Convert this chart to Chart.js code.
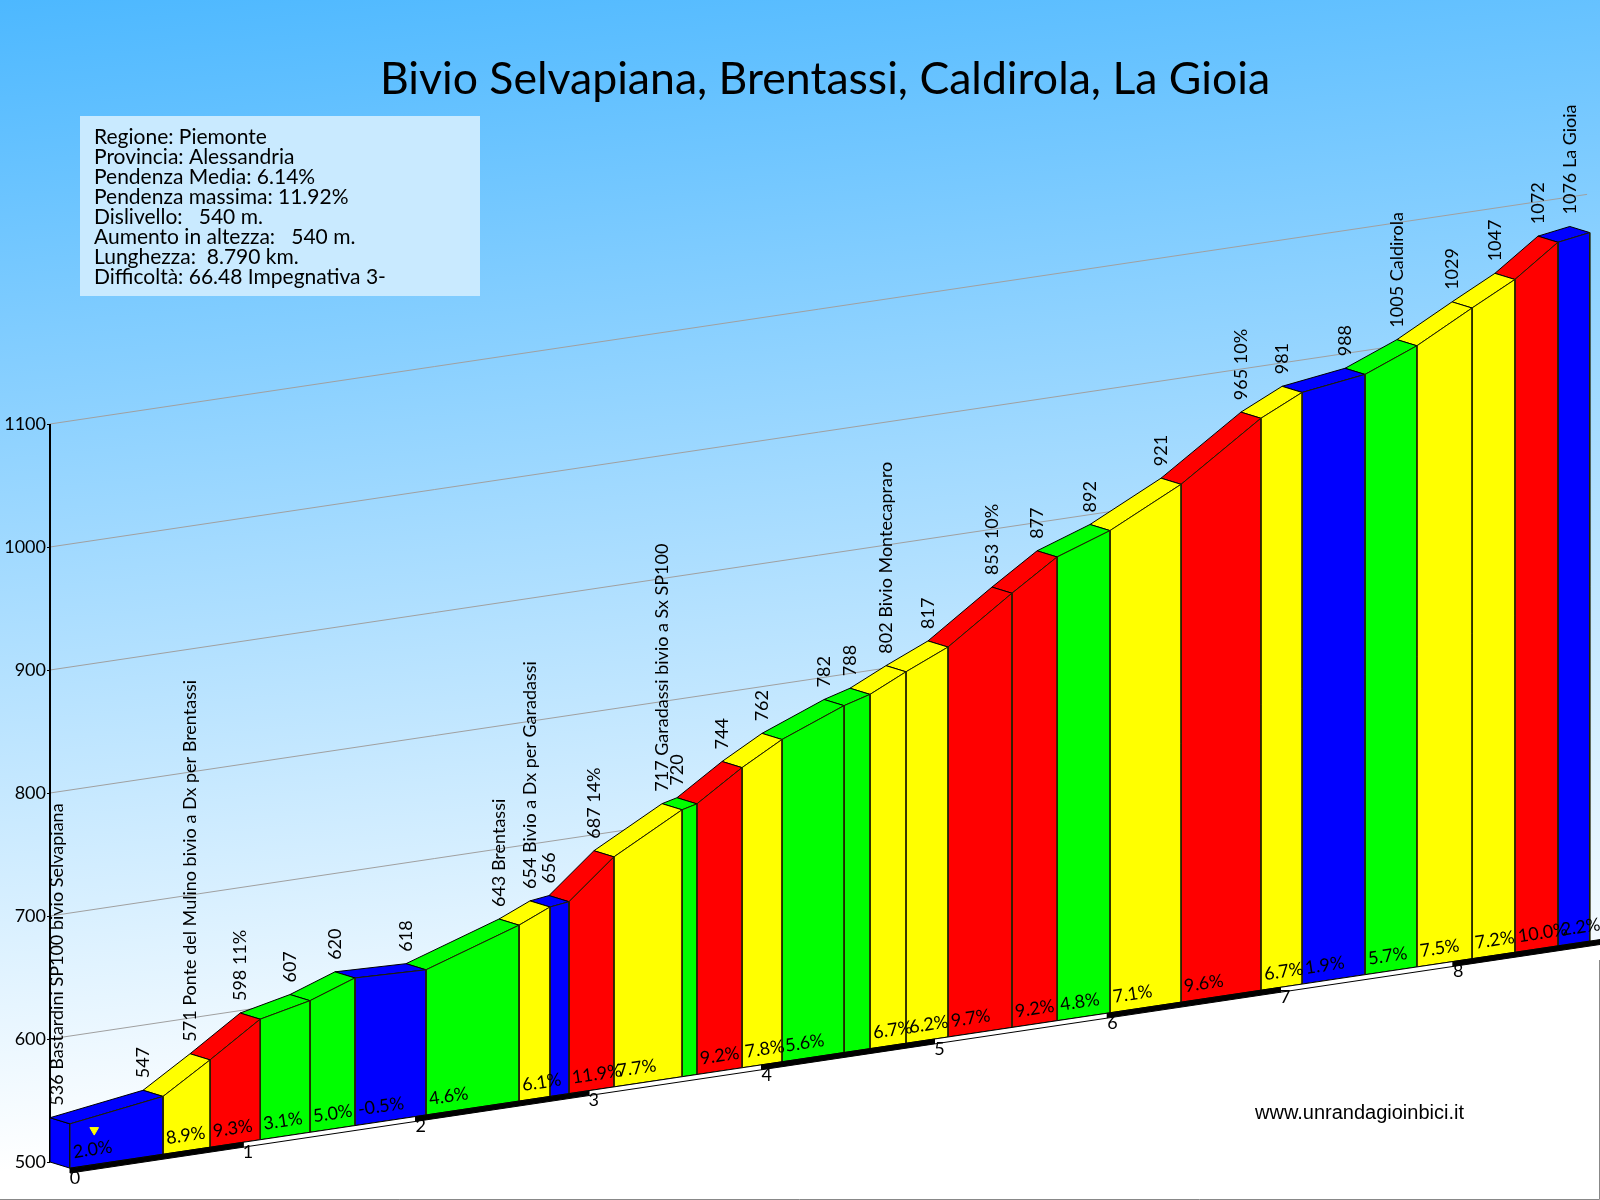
<!DOCTYPE html>
<html lang="it">
<head>
<meta charset="utf-8">
<title>Bivio Selvapiana, Brentassi, Caldirola, La Gioia</title>
<script src="https://cdn.jsdelivr.net/npm/chart.js@4/dist/chart.umd.min.js"></script>
<style>
    html, body { margin: 0; padding: 0; background: #fff; }
    canvas { display: block; }
</style>
</head>
<body>
<canvas id="grafico" width="1600" height="1200"></canvas>
<script>
const titolo = 'Bivio Selvapiana, Brentassi, Caldirola, La Gioia';
const sito = 'www.unrandagioinbici.it';
const info = [
    'Regione: Piemonte',
    'Provincia: Alessandria',
    'Pendenza Media: 6.14%',
    'Pendenza massima: 11.92%',
    'Dislivello:   540 m.',
    'Aumento in altezza:   540 m.',
    'Lunghezza:  8.790 km.',
    'Difficoltà: 66.48 Impegnativa 3-'
];
const km = [0, 0.538, 0.81, 1.10, 1.388, 1.648, 2.059, 2.597, 2.776, 2.886, 3.146, 3.54, 3.626,
    3.887, 4.118, 4.477, 4.627, 4.835, 5.078, 5.448, 5.709, 6.015, 6.426, 6.888, 7.126, 7.49,
    7.79, 8.109, 8.357, 8.606, 8.79];
const quote = [536, 547, 571, 598, 607, 620, 618, 643, 654, 656, 687, 717, 720, 744, 762, 782,
    788, 802, 817, 853, 877, 892, 921, 965, 981, 988, 1005, 1029, 1047, 1072, 1076];
const etichette = ['536 Bastardini SP100 bivio Selvapiana', '547', '571 Ponte del Mulino bivio a Dx per Brentassi',
    '598 11%', '607', '620', '618', '643 Brentassi', '654 Bivio a Dx per Garadassi', '656', '687 14%',
    '717 Garadassi bivio a Sx SP100', '720', '744', '762', '782', '788', '802 Bivio Montecapraro', '817',
    '853 10%', '877', '892', '921', '965 10%', '981', '988', '1005 Caldirola', '1029', '1047', '1072',
    '1076 La Gioia'];
// null = tratto senza scritta nel grafico
const pendenze = [2.0, 8.9, 9.3, 3.1, 5.0, -0.5, 4.6, 6.1, null, 11.9, 7.7, null, 9.2, 7.8, 5.6, null,
    6.7, 6.2, 9.7, 9.2, 4.8, 7.1, 9.6, 6.7, 1.9, 5.7, 7.5, 7.2, 10.0, 2.2];
const tickQuote = [500, 600, 700, 800, 900, 1000, 1100];
const tickKm = [0, 1, 2, 3, 4, 5, 6, 7, 8];
const bandierinaKm = [0.14];
const bandierinaQuota = [528];

// Proiezione: il piano frontale sale con la distanza, quello posteriore e' spostato indietro
const PX_M = 1.23, PX_KM = 172.9;
const SALITA = 21;      // m per km
const PROF_KM = 20 / PX_KM;
const PROF_M = 5;

const font = 'Lato, "Noto Sans", sans-serif';

const fronte = (k, q) => ({ x: k, y: q + SALITA * k - PROF_M });
const retro = (k, q) => ({ x: k - PROF_KM, y: q + SALITA * k });
const chiudi = punti => punti.concat([punti[0]]);

function poligono(punti, colore, bordo) {
    return {
        data: chiudi(punti),
        showLine: true,
        fill: 'shape',
        backgroundColor: colore,
        borderColor: bordo || colore,
        borderWidth: 1,
        pointRadius: 0,
        tension: 0,
        clip: false
    };
}

function linea(punti, colore, spessore) {
    return {
        data: punti,
        showLine: true,
        fill: false,
        borderColor: colore,
        borderWidth: spessore,
        pointRadius: 0,
        tension: 0,
        clip: false
    };
}

function colorePendenza(i) {
    const p = pendenze[i] !== null ? pendenze[i] : (quote[i + 1] - quote[i]) / (km[i + 1] - km[i]) / 10;
    if (p < 3) return '#0000ff';
    if (p < 6) return '#00ff00';
    if (p < 9) return '#ffff00';
    return '#ff0000';
}

// Il primo dataset dell'array viene disegnato sopra gli altri
const datasets = [];

datasets.push({
    data: [fronte(bandierinaKm[0], bandierinaQuota[0])],
    pointStyle: 'triangle',
    pointRadius: 5,
    pointRotation: 180,
    backgroundColor: '#ffff00',
    borderColor: '#ffff00',
    clip: false
});

// Fascia chilometrica nera e bianca
tickKm.forEach(k => {
    const fine = k === 8 ? 8.85 : k + 1;
    const punti = [fronte(k, 500), fronte(fine, 500), fronte(fine, 496), fronte(k, 496)];
    datasets.push(poligono(punti, k % 2 === 0 ? '#000000' : '#ffffff', '#000000'));
});

for (let i = 0; i < km.length - 1; i++) {
    const colore = colorePendenza(i);
    datasets.push(poligono([
        fronte(km[i], 500), fronte(km[i], quote[i]), fronte(km[i + 1], quote[i + 1]), fronte(km[i + 1], 500)
    ], colore, '#222200'));
    datasets.push(poligono([
        retro(km[i], quote[i]), retro(km[i + 1], quote[i + 1]), fronte(km[i + 1], quote[i + 1]), fronte(km[i], quote[i])
    ], colore, '#000000'));
}

// Fianco sinistro
datasets.push(poligono([
    retro(0, 500), retro(0, quote[0]), fronte(0, quote[0]), fronte(0, 500)
], colorePendenza(0), '#000000'));

// Asse delle quote
datasets.push(linea([retro(0, tickQuote[0]), retro(0, tickQuote[tickQuote.length - 1])], '#000000', 2));

// Terreno bianco sotto la base
datasets.push(poligono([
    fronte(-PROF_KM, 496), fronte(8.85, 496), { x: 8.85, y: 460 }, { x: -PROF_KM, y: 460 }
], '#ffffff'));

// Griglia inclinata
tickQuote.forEach(q => {
    datasets.push(linea([retro(0, q), retro(8.89, q)], '#a0a0a0', 1));
});

const sfondo = {
    id: 'sfondo',
    beforeDraw(chart) {
        const ctx = chart.ctx;
        const g = ctx.createLinearGradient(0, 0, 116, 1160);
        g.addColorStop(0, '#4db8ff');
        g.addColorStop(1, '#ffffff');
        ctx.save();
        ctx.fillStyle = g;
        ctx.fillRect(0, 0, chart.width, chart.height);
        ctx.restore();
    }
};

const testi = {
    id: 'testi',
    afterDatasetsDraw(chart) {
        const ctx = chart.ctx;
        const xs = chart.scales.x, ys = chart.scales.y;
        const inclinazione = -Math.atan(SALITA * PX_M / PX_KM);
        ctx.save();
        ctx.fillStyle = '#000';

        // Titolo
        ctx.font = '44.6px ' + font;
        ctx.textAlign = 'center';
        ctx.textBaseline = 'alphabetic';
        ctx.fillText(titolo, 825, 94);

        // Riquadro informazioni
        ctx.fillStyle = '#c9eaff';
        ctx.fillRect(80, 116, 400, 180);
        ctx.fillStyle = '#000';
        ctx.font = '21px ' + font;
        ctx.textAlign = 'left';
        info.forEach((riga, i) => ctx.fillText(riga, 94, 144 + i * 20));

        // Sito
        ctx.font = '20px "Liberation Sans", Arial, sans-serif';
        ctx.fillText(sito, 1255, 1119);

        // Etichette verticali sui punti
        ctx.font = '18px ' + font;
        ctx.textBaseline = 'middle';
        etichette.forEach((testo, i) => {
            const p = retro(km[i], quote[i]);
            ctx.save();
            ctx.translate(Math.max(xs.getPixelForValue(p.x), 57), ys.getPixelForValue(p.y) - 12);
            ctx.rotate(-Math.PI / 2);
            ctx.fillText(testo, 0, 0);
            ctx.restore();
        });

        // Pendenze lungo la base
        ctx.textBaseline = 'alphabetic';
        pendenze.forEach((p, i) => {
            if (p === null) return;
            const b = fronte(km[i], 500);
            ctx.save();
            ctx.translate(xs.getPixelForValue(b.x) + 4, ys.getPixelForValue(b.y) - 10);
            ctx.rotate(inclinazione);
            ctx.fillText(p.toFixed(1) + '%', 0, 0);
            ctx.restore();
        });

        // Chilometri
        ctx.textAlign = 'center';
        ctx.textBaseline = 'middle';
        tickKm.forEach(k => {
            const b = fronte(k, 500);
            ctx.fillText(String(k), xs.getPixelForValue(b.x) + 5, ys.getPixelForValue(b.y) + 10);
        });

        // Cornice dell'immagine
        ctx.strokeStyle = '#888';
        ctx.lineWidth = 1;
        ctx.beginPath();
        ctx.moveTo(1599.5, 960);
        ctx.lineTo(1599.5, 1199.5);
        ctx.lineTo(0, 1199.5);
        ctx.stroke();
        ctx.restore();
    }
};

new Chart(document.getElementById('grafico'), {
    type: 'scatter',
    data: { datasets: datasets },
    plugins: [sfondo, testi],
    options: {
        responsive: false,
        animation: false,
        devicePixelRatio: 1,
        layout: { autoPadding: false },
        plugins: {
            legend: { display: false },
            tooltip: { enabled: false }
        },
        scales: {
            x: {
                type: 'linear',
                display: false,
                min: -PROF_KM,
                max: (1600 - 70) / PX_KM
            },
            y: {
                type: 'linear',
                min: 500 - (1200 - 1162) / PX_M,
                max: 500 + 1162 / PX_M,
                afterFit(scale) {
                    scale.width = 50;
                    scale.paddingTop = 0;
                    scale.paddingBottom = 0;
                },
                afterBuildTicks(scale) { scale.ticks = tickQuote.map(v => ({ value: v })); },
                border: { display: false },
                grid: { drawOnChartArea: false, tickLength: 3, tickColor: '#000' },
                ticks: {
                    autoSkip: false,
                    padding: 1,
                    color: '#000',
                    font: { family: font, size: 18 },
                    callback: v => String(v)
                }
            }
        }
    }
});
</script>
</body>
</html>
